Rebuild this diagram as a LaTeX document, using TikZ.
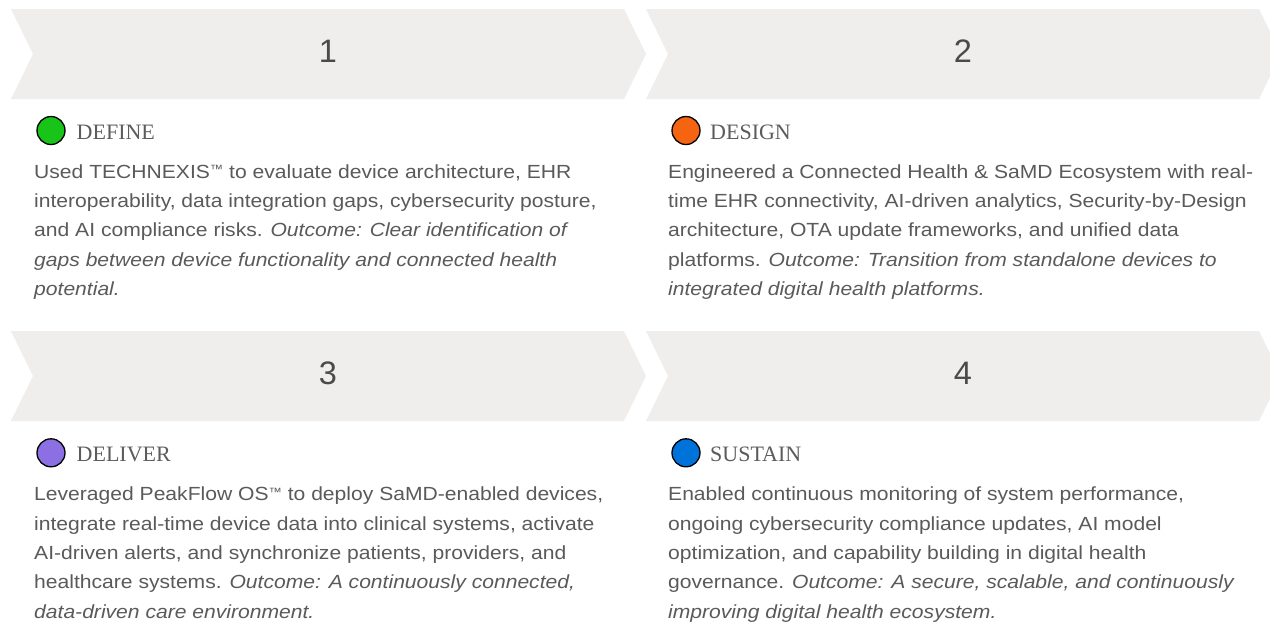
\documentclass[tikz,border=0pt]{standalone}
\usepackage{fontspec}
\setmainfont{Liberation Sans}[FakeStretch=1.11]
\newfontfamily\titlefont{Liberation Serif}
\newfontfamily\numfont{Liberation Sans}
\definecolor{chevfill}{HTML}{F0EEED}
\definecolor{bodygrey}{HTML}{5A5A5A}
\definecolor{titlegrey}{HTML}{5C5C5C}
\definecolor{numgrey}{HTML}{4A4A4A}
\definecolor{dgreen}{HTML}{17C417}
\definecolor{dorange}{HTML}{F56410}
\definecolor{dpurple}{HTML}{8B6FE3}
\definecolor{dblue}{HTML}{0073DA}
\tikzset{
  chevpic/.pic={\fill[chevfill] (0,0) -- (613,0) -- (635,45) -- (613,90) -- (0,90) -- (22,45) -- cycle;},
  numstyle/.style={anchor=base, inner sep=0pt, text=numgrey, font={\numfont\fontsize{32.5}{36}\selectfont}},
  titlestyle/.style={anchor=base west, inner sep=0pt, text=titlegrey, font={\titlefont\fontsize{22}{26}\selectfont}},
  dot/.style={circle, draw=black, line width=1.3pt, minimum size=28pt, inner sep=0pt},
  bodystyle/.style={anchor=base west, inner sep=0pt, text=bodygrey, font={\fontsize{19}{29.3}\selectfont}}
}
\newcommand\bodytext[1]{\parbox[t]{640pt}{\raggedright #1}}
\newcommand\tmark{\raisebox{4.6pt}{\fontsize{12}{12}\selectfont ™}}
\begin{document}
\begin{tikzpicture}[x=1pt,y=-1pt]
\useasboundingbox (0,0) rectangle (1270,622);
\clip (0,0) rectangle (1270,622);
\fill[white] (0,0) rectangle (1270,622);
% chevrons
\pic at (11,9) {chevpic};
\pic at (646,9) {chevpic};
\pic at (11,331) {chevpic};
\pic at (646,331) {chevpic};
% numbers
\node[numstyle] (n1) at (328,62.3) {1};
\node[numstyle] (n2) at (963,62.3) {2};
\node[numstyle] (n3) at (328,384.6) {3};
\node[numstyle] (n4) at (963,384.6) {4};
% dots
\node[dot, fill=dgreen] (c1) at (51,130.5) {};
\node[dot, fill=dorange] (c2) at (686,130.5) {};
\node[dot, fill=dpurple] (c3) at (51,452.8) {};
\node[dot, fill=dblue] (c4) at (686,452.8) {};
% titles
\node[titlestyle] (t1) at (76.5,139.3) {DEFINE};
\node[titlestyle] (t2) at (710,139.3) {DESIGN};
\node[titlestyle] (t3) at (76.5,461.6) {DELIVER};
\node[titlestyle] (t4) at (710,461.6) {SUSTAIN};
% bodies
\node[bodystyle] (b1) at (34,178.3) {\bodytext{Used TECHNEXIS\tmark{} to evaluate device architecture, EHR\\
interoperability, data integration gaps, cybersecurity posture,\\
and AI compliance risks. \textit{Outcome: Clear identification of}\\
\textit{gaps between device functionality and connected health}\\
\textit{potential.}}};
\node[bodystyle] (b2) at (668,178.3) {\bodytext{Engineered a Connected Health \& SaMD Ecosystem with real-\\
time EHR connectivity, AI-driven analytics, Security-by-Design\\
architecture, OTA update frameworks, and unified data\\
platforms. \textit{Outcome: Transition from standalone devices to}\\
\textit{integrated digital health platforms.}}};
\node[bodystyle] (b3) at (34,500.8) {\bodytext{Leveraged PeakFlow OS\tmark{} to deploy SaMD-enabled devices,\\
integrate real-time device data into clinical systems, activate\\
AI-driven alerts, and synchronize patients, providers, and\\
healthcare systems. \textit{Outcome: A continuously connected,}\\
\textit{data-driven care environment.}}};
\node[bodystyle] (b4) at (668,500.8) {\bodytext{Enabled continuous monitoring of system performance,\\
ongoing cybersecurity compliance updates, AI model\\
optimization, and capability building in digital health\\
governance. \textit{Outcome: A secure, scalable, and continuously}\\
\textit{improving digital health ecosystem.}}};
\end{tikzpicture}
\end{document}
